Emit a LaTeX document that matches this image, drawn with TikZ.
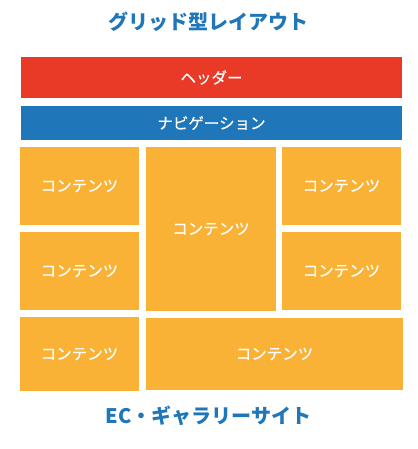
\documentclass[tikz,border=0pt]{standalone}
\usepackage{fontspec}
\setmainfont{Noto Sans CJK JP}
\newfontfamily\lblfont{Noto Sans CJK JP}[FakeBold=0.6]
\definecolor{hdrred}{HTML}{E83A26}
\definecolor{navblue}{HTML}{1F76B8}
\definecolor{cntorange}{HTML}{F9B136}
\tikzset{
 title/.style={text=navblue,font=\fontsize{20}{24}\bfseries\selectfont},
 panel/.style={inner sep=0pt,text=white,font=\lblfont\fontsize{15.5}{18}\selectfont},
 cnt/.style={panel,fill=cntorange,minimum width=119pt,minimum height=78pt}
}
\begin{document}
\begin{tikzpicture}[x=1pt,y=-1pt]
 \useasboundingbox (0,0) rectangle (417,449);
 \node[title] (top) at (208,22) {グリッド型レイアウト};
 \node[panel,fill=hdrred,minimum width=381pt,minimum height=41pt] (hdr) at (211.5,77.5) {ヘッダー};
 \node[panel,fill=navblue,minimum width=381pt,minimum height=34pt] (nav) at (211.5,123) {ナビゲーション};
 \node[cnt] (c1) at (79.5,186) {コンテンツ};
 \node[cnt] (c2) at (79.5,271) {コンテンツ};
 \node[cnt,minimum width=130pt,minimum height=164pt] (c3) at (211,229) {コンテンツ};
 \node[cnt] (c4) at (341.5,186) {コンテンツ};
 \node[cnt] (c5) at (341.5,271) {コンテンツ};
 \node[cnt,minimum height=74pt] (c6) at (79.5,354) {コンテンツ};
 \node[cnt,minimum width=257pt,minimum height=72pt] (c7) at (274.5,354) {コンテンツ};
 \node[title] (bottom) at (208.5,416) {EC・ギャラリーサイト};
\end{tikzpicture}
\end{document}
